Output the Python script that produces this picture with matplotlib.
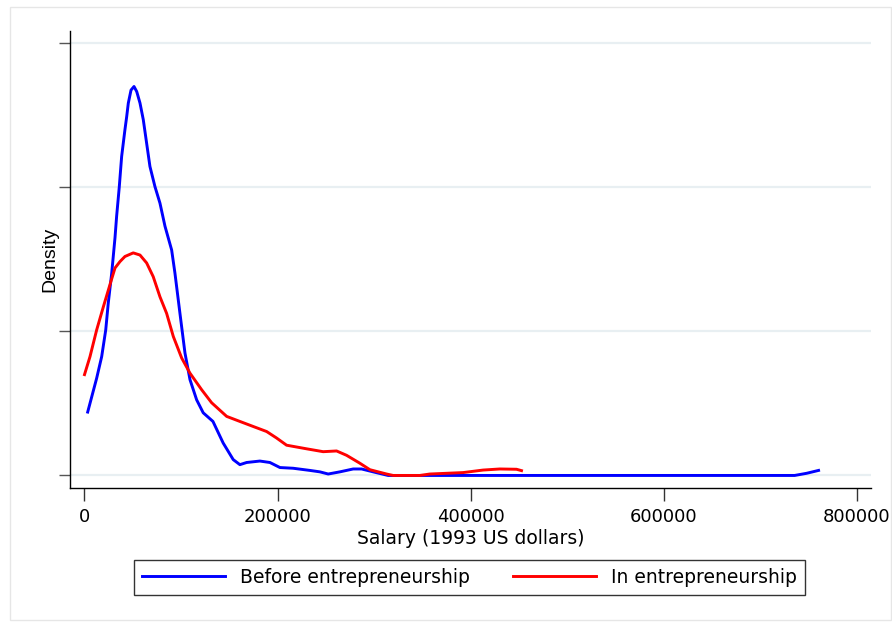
import matplotlib
matplotlib.use("Agg")
import matplotlib.pyplot as plt
from matplotlib.patches import Rectangle

# kernel density of salary, before vs. in entrepreneurship (density in 1e-6 units)
salary_before = [3300, 12600, 17800, 22000, 24600, 28200, 31600, 33300, 36000, 38500,
                 41900, 43700, 45400, 48200, 51300, 54100, 57500, 60900, 64400, 67800,
                 73000, 78200, 83400, 90300, 93700, 98900, 104100, 109300, 116200, 123000,
                 133100, 143700, 154100, 161000, 168000, 181700, 192100, 202500, 216200,
                 233500, 243900, 252500, 264600, 278400, 287100, 299100, 314600, 400000,
                 500000, 600000, 700000, 735800, 748200, 760600]
dens_before = [0.88, 1.35, 1.65, 2.02, 2.39, 2.81, 3.30, 3.60, 4.00, 4.43,
               4.80, 4.98, 5.17, 5.35, 5.40, 5.33, 5.17, 4.94, 4.61, 4.29,
               4.01, 3.78, 3.46, 3.13, 2.81, 2.25, 1.70, 1.33, 1.05, 0.87,
               0.75, 0.45, 0.22, 0.15, 0.18, 0.20, 0.18, 0.11, 0.10,
               0.07, 0.05, 0.02, 0.05, 0.09, 0.09, 0.05, 0.0, 0.0,
               0.0, 0.0, 0.0, 0.0, 0.03, 0.07]

salary_in = [0, 5700, 12600, 19500, 26400, 31600, 36800, 41900, 50500, 57500,
             64400, 71200, 78200, 85100, 92000, 100700, 109300, 121400, 131700, 147300,
             161000, 174800, 188700, 199000, 209400, 230100, 247300, 261200, 271500,
             285300, 295700, 313000, 319800, 347400, 357800, 392300, 413000, 430300,
             447600, 452800]
dens_in = [1.40, 1.65, 2.02, 2.34, 2.65, 2.88, 2.97, 3.04, 3.09, 3.06,
           2.95, 2.76, 2.48, 2.25, 1.93, 1.63, 1.42, 1.19, 1.01, 0.82,
           0.75, 0.68, 0.61, 0.52, 0.42, 0.37, 0.33, 0.34, 0.28,
           0.17, 0.08, 0.02, 0.0, 0.0, 0.02, 0.04, 0.075, 0.09,
           0.086, 0.067]

xticks = [0, 200000, 400000, 600000, 800000]
yticks = [0, 2, 4, 6]

fig = plt.figure(figsize=(8.92, 6.26), dpi=100)
fig.patches.append(Rectangle((9.5 / 892, 1 - 620 / 626), 881.5 / 892, 613.5 / 626,
                             transform=fig.transFigure, fill=False,
                             edgecolor="#e6e6e6", lw=1.0))
ax = fig.add_axes([0.0785, 0.22, 0.8975, 0.731])

for y in yticks:
    ax.axhline(y, color="#e8eff2", lw=1.6, zorder=0)

ax.plot(salary_before, dens_before, color="#0000ff", lw=2.1, label="Before entrepreneurship")
ax.plot(salary_in, dens_in, color="#ff0000", lw=2.1, label="In entrepreneurship")

ax.set_xlim(-15000, 814500)
ax.set_ylim(-0.178, 6.175)
ax.set_xticks(xticks)
ax.set_xticklabels([str(v) for v in xticks], fontsize=13, family="DejaVu Sans")
ax.set_yticks(yticks)
ax.set_yticklabels([])
ax.tick_params(axis="x", direction="out", length=9, width=1, color="#333333", pad=5)
ax.tick_params(axis="y", direction="out", length=8, width=1, color="#555555")

for side in ["top", "right"]:
    ax.spines[side].set_visible(False)
for side in ["left", "bottom"]:
    ax.spines[side].set_linewidth(1.0)
    ax.spines[side].set_color("black")

ax.set_xlabel("Salary (1993 US dollars)", fontsize=13.5, family="DejaVu Sans", labelpad=2)
ax.set_ylabel("Density", fontsize=14, family="Liberation Sans", labelpad=-3)

leg = fig.legend(loc="center", bbox_to_anchor=(0.5263, 0.0775), ncol=2,
                 prop={"family": "DejaVu Sans", "size": 13.5},
                 frameon=True, fancybox=False, edgecolor="black",
                 handlelength=4.4, handletextpad=0.8, columnspacing=2.35,
                 borderpad=0.45, borderaxespad=0)
leg.get_frame().set_linewidth(1.0)

fig.savefig("out.png", dpi=100)
